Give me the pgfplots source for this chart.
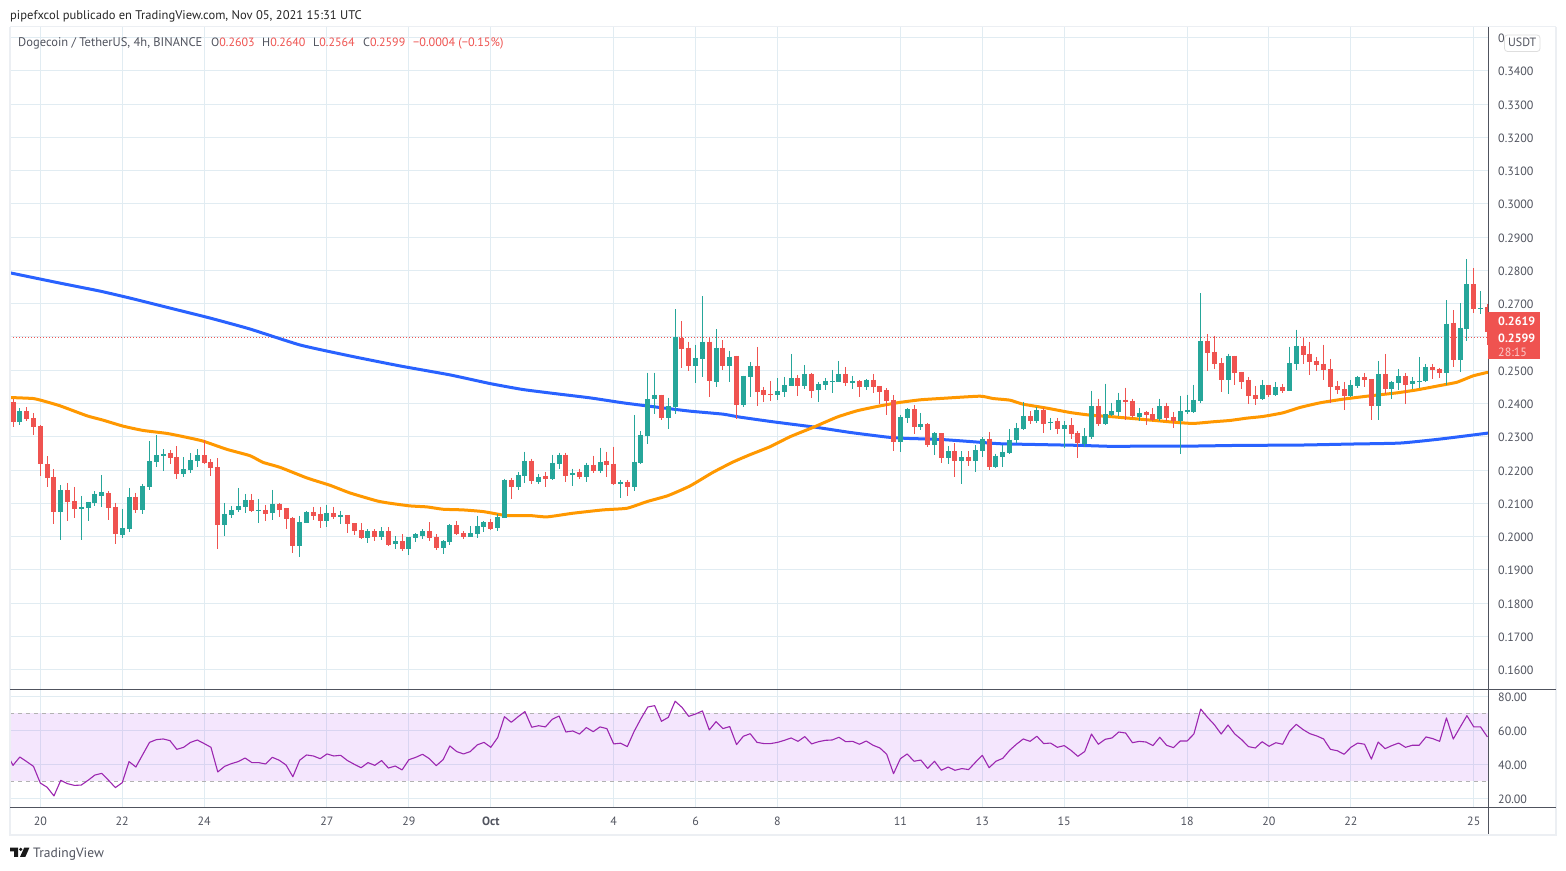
\documentclass[border=0pt]{standalone}
\usepackage{fontspec}
\setmainfont{PT Sans}
\usepackage{pgfplots}
\usepackage{pgfplotstable}
\pgfplotsset{compat=1.18}
\definecolor{cgreen}{HTML}{26A69A}
\definecolor{cred}{HTML}{EF5350}
\definecolor{gridc}{HTML}{E1ECF2}
\definecolor{axc}{HTML}{50535E}
\definecolor{framec}{HTML}{ECEFF3}
\definecolor{ma1}{HTML}{FF9800}
\definecolor{ma2}{HTML}{2962FF}
\definecolor{rsic}{HTML}{9C27B0}
\definecolor{bandc}{HTML}{A020F0}
% green candles: x high close open low
\pgfplotstableread{
x high top bot low
1 .2386 .2377 .2345 .2336
7 .2155 .2140 .2075 .1988
10 .2122 .2089 .2084 .1988
11 .2104 .2104 .2087 .2048
12 .2136 .2128 .2102 .2093
13 .2185 .2134 .2122 .2090
16 .2083 .2026 .2006 .1997
17 .2146 .2119 .2024 .2015
19 .2158 .2152 .2081 .2069
20 .2287 .2227 .2150 .2141
21 .2305 .2245 .2225 .2210
22 .2263 .2248 .2242 .2198
25 .2239 .2203 .2188 .2179
26 .2251 .2230 .2200 .2191
27 .2263 .2245 .2227 .2209
31 .2101 .2068 .2035 .2002
32 .2092 .2080 .2065 .2056
33 .2146 .2092 .2080 .2074
34 .2128 .2110 .2089 .2071
36 .2113 .2080 .2077 .2040
38 .2140 .2098 .2071 .2049
42 .2062 .2044 .1971 .1937
43 .2077 .2074 .2040 .2040
46 .2095 .2071 .2046 .2028
48 .2077 .2065 .2059 .2037
52 .2022 .2016 .1995 .1980
54 .2028 .2016 .1998 .1989
56 .2001 .1986 .1977 .1962
58 .1998 .1998 .1962 .1943
59 .2010 .2007 .1995 .1983
60 .2022 .2016 .2001 .1992
63 .1989 .1986 .1965 .1947
64 .2037 .2034 .1983 .1974
67 .2031 .2010 .1998 .1998
68 .2062 .2031 .2007 .1995
69 .2046 .2043 .2028 .2013
71 .2068 .2059 .2025 .2016
72 .2174 .2171 .2056 .2056
74 .2194 .2185 .2149 .2140
75 .2255 .2228 .2182 .2161
77 .2188 .2179 .2164 .2158
79 .2246 .2222 .2173 .2170
80 .2252 .2246 .2219 .2204
82 .2204 .2191 .2185 .2152
84 .2222 .2216 .2179 .2164
86 .2267 .2225 .2197 .2191
89 .2170 .2164 .2158 .2116
91 .2366 .2225 .2149 .2137
92 .2318 .2306 .2222 .2219
93 .2493 .2415 .2303 .2279
94 .2493 .2427 .2415 .2368
96 .2418 .2393 .2357 .2324
97 .2683 .2600 .2390 .2369
100 .2577 .2538 .2514 .2463
101 .2722 .2586 .2535 .2481
103 .2623 .2568 .2466 .2451
105 .2559 .2541 .2514 .2466
107 .2484 .2484 .2396 .2390
108 .2525 .2513 .2480 .2420
112 .2477 .2438 .2426 .2411
113 .2480 .2456 .2435 .2420
114 .2549 .2477 .2453 .2453
116 .2516 .2489 .2453 .2444
118 .2465 .2459 .2441 .2405
119 .2477 .2468 .2456 .2441
120 .2501 .2468 .2465 .2432
121 .2528 .2489 .2465 .2465
123 .2483 .2468 .2462 .2444
125 .2474 .2471 .2450 .2441
130 .2366 .2360 .2284 .2254
131 .2387 .2384 .2357 .2342
133 .2372 .2339 .2329 .2320
135 .2314 .2311 .2275 .2245
137 .2272 .2257 .2236 .2218
139 .2257 .2239 .2227 .2158
141 .2275 .2260 .2227 .2194
142 .2300 .2294 .2258 .2240
144 .2249 .2243 .2210 .2207
145 .2276 .2255 .2240 .2210
146 .2324 .2291 .2252 .2249
147 .2342 .2327 .2291 .2282
148 .2406 .2363 .2324 .2321
150 .2390 .2381 .2348 .2342
152 .2357 .2345 .2342 .2321
154 .2348 .2336 .2324 .2267
157 .2327 .2303 .2279 .2270
158 .2439 .2393 .2300 .2294
160 .2460 .2369 .2339 .2336
161 .2403 .2378 .2366 .2363
162 .2433 .2412 .2375 .2363
165 .2387 .2372 .2360 .2348
168 .2415 .2393 .2354 .2348
171 .2424 .2378 .2348 .2249
172 .2427 .2381 .2375 .2369
173 .2457 .2412 .2375 .2372
174 .2731 .2589 .2409 .2403
178 .2550 .2544 .2472 .2430
183 .2471 .2456 .2413 .2410
185 .2465 .2450 .2425 .2422
187 .2571 .2522 .2437 .2437
188 .2622 .2574 .2519 .2501
196 .2471 .2456 .2422 .2419
197 .2483 .2480 .2453 .2446
200 .2528 .2489 .2392 .2349
202 .2468 .2465 .2443 .2413
203 .2504 .2483 .2462 .2440
205 .2480 .2468 .2459 .2443
206 .2540 .2468 .2465 .2446
207 .2519 .2510 .2468 .2465
210 .2710 .2640 .2492 .2456
212 .2701 .2628 .2531 .2495
213 .2834 .2759 .2625 .2589
215 .2737 .2686 .2683 .2668
}\upcandles
% red candles: x high open close low
\pgfplotstableread{
x high top bot low
0 .2415 .2404 .2345 .2329
2 .2389 .2377 .2354 .2348
3 .2371 .2356 .2330 .2305
4 .2335 .2332 .2219 .2182
5 .2242 .2218 .2177 .2150
6 .2203 .2179 .2075 .2039
8 .2161 .2140 .2105 .2048
9 .2149 .2107 .2084 .2057
14 .2137 .2131 .2087 .2051
15 .2101 .2089 .2009 .1976
18 .2131 .2119 .2081 .2072
23 .2260 .2251 .2236 .2219
24 .2272 .2239 .2189 .2173
28 .2290 .2245 .2221 .2218
29 .2233 .2224 .2206 .2182
30 .2236 .2209 .2035 .1963
35 .2128 .2110 .2077 .2074
37 .2095 .2080 .2068 .2046
39 .2101 .2098 .2080 .2059
40 .2086 .2086 .2053 .2022
41 .2059 .2056 .1971 .1950
44 .2089 .2074 .2062 .2050
45 .2089 .2068 .2046 .2025
47 .2089 .2071 .2059 .2053
49 .2065 .2065 .2037 .2010
50 .2040 .2040 .2016 .2004
51 .2040 .2019 .1995 .1992
53 .2022 .2016 .1998 .1986
55 .2028 .2016 .1974 .1971
57 .2007 .1986 .1962 .1956
61 .2043 .2016 .1995 .1986
62 .2007 .1998 .1965 .1959
65 .2046 .2034 .2007 .2004
66 .2016 .2010 .1998 .1992
70 .2052 .2043 .2022 .2019
73 .2176 .2170 .2149 .2113
76 .2234 .2228 .2167 .2158
78 .2194 .2182 .2173 .2149
81 .2252 .2246 .2182 .2164
83 .2204 .2194 .2179 .2173
85 .2243 .2216 .2197 .2191
87 .2255 .2228 .2216 .2179
88 .2270 .2219 .2158 .2155
90 .2170 .2164 .2149 .2122
95 .2427 .2427 .2357 .2351
98 .2647 .2597 .2565 .2508
99 .2586 .2568 .2514 .2499
102 .2599 .2586 .2469 .2421
104 .2590 .2568 .2514 .2502
106 .2544 .2544 .2396 .2354
109 .2570 .2513 .2435 .2393
110 .2450 .2441 .2426 .2405
111 .2468 .2429 .2426 .2408
115 .2486 .2477 .2453 .2423
117 .2492 .2489 .2438 .2417
122 .2510 .2489 .2462 .2453
124 .2471 .2468 .2450 .2420
126 .2489 .2471 .2450 .2432
127 .2453 .2453 .2435 .2399
128 .2447 .2441 .2408 .2366
129 .2426 .2411 .2284 .2257
132 .2396 .2384 .2329 .2308
134 .2342 .2339 .2275 .2269
136 .2311 .2311 .2236 .2221
138 .2281 .2257 .2227 .2179
140 .2257 .2239 .2227 .2212
143 .2315 .2294 .2210 .2200
149 .2378 .2363 .2348 .2339
151 .2387 .2381 .2339 .2312
153 .2357 .2348 .2324 .2309
155 .2357 .2336 .2309 .2294
156 .2318 .2312 .2282 .2237
159 .2415 .2393 .2339 .2333
163 .2448 .2412 .2406 .2351
164 .2415 .2409 .2363 .2357
166 .2378 .2375 .2366 .2336
167 .2387 .2369 .2351 .2348
169 .2403 .2393 .2357 .2348
170 .2375 .2360 .2348 .2327
175 .2608 .2589 .2553 .2499
176 .2604 .2556 .2520 .2505
177 .2536 .2523 .2472 .2436
179 .2544 .2544 .2493 .2457
180 .2495 .2495 .2465 .2443
181 .2480 .2471 .2422 .2398
182 .2453 .2425 .2413 .2395
184 .2456 .2456 .2425 .2419
186 .2459 .2450 .2437 .2431
189 .2601 .2574 .2546 .2519
190 .2586 .2550 .2525 .2486
191 .2540 .2528 .2516 .2498
192 .2577 .2519 .2501 .2471
193 .2534 .2504 .2450 .2401
194 .2468 .2453 .2440 .2428
195 .2465 .2443 .2422 .2380
198 .2492 .2480 .2471 .2449
199 .2474 .2474 .2392 .2349
201 .2549 .2489 .2443 .2428
204 .2492 .2483 .2456 .2398
208 .2519 .2510 .2501 .2474
209 .2507 .2504 .2492 .2477
211 .2680 .2643 .2531 .2510
214 .2807 .2759 .2683 .2671
216 .2698 .2689 .2616 .2577
}\downcandles
\pgfplotstableread{
x y
-0.44 .2418
2.93 .2415
4.39 .2408
6.89 .2393
10.84 .2363
13.18 .2350
16.11 .2332
19.04 .2319
22.56 .2310
25.49 .2298
27.83 .2287
31.35 .2262
34.72 .2243
36.62 .2223
39.12 .2208
43.07 .2176
46.44 .2154
49.37 .2131
53.33 .2107
55.23 .2100
58.16 .2092
60.65 .2089
62.99 .2082
65.92 .2080
68.85 .2075
71.34 .2066
72.37 .2063
75.74 .2063
78.23 .2059
82.04 .2070
86.43 .2080
89.95 .2085
92.88 .2105
95.96 .2123
99.18 .2152
102.55 .2193
105.48 .2224
107.97 .2246
110.90 .2270
113.83 .2300
117.20 .2328
120.71 .2359
123.64 .2378
126.57 .2391
129.50 .2402
132.87 .2411
135.80 .2415
141.66 .2422
143.57 .2415
146.06 .2410
147.96 .2398
151.48 .2386
154.85 .2373
157.78 .2365
161.15 .2360
166.13 .2351
169.94 .2344
172.87 .2340
175.80 .2345
178.29 .2349
180.78 .2356
183.12 .2361
186.05 .2372
188.54 .2388
191.47 .2402
194.84 .2413
198.80 .2423
202.75 .2432
205.68 .2441
209.05 .2454
211.54 .2464
213.89 .2483
216.09 .2494
}\maorange
\pgfplotstableread{
x y
-0.44 .2793
6.89 .2762
12.75 .2738
17.14 .2717
23.00 .2687
28.86 .2657
34.72 .2624
42.05 .2576
49.37 .2543
56.69 .2513
64.02 .2486
69.88 .2460
74.71 .2442
79.70 .2429
84.53 .2417
89.36 .2402
94.35 .2389
99.18 .2377
104.01 .2368
106.50 .2359
111.34 .2345
117.79 .2328
122.62 .2313
128.04 .2299
130.97 .2295
135.80 .2292
140.64 .2285
144.59 .2279
151.48 .2276
156.31 .2274
161.15 .2271
166.13 .2272
172.87 .2272
179.75 .2274
188.54 .2275
195.87 .2278
203.19 .2281
209.05 .2293
216.09 .2311
}\mablue
\pgfplotstableread{
x y
-0.44 42.7
0 39.4
1 44.3
2 41.6
3 38.8
4 29.0
5 26.5
6 21.4
7 30.6
8 28.6
9 27.6
10 27.8
11 30.6
12 33.7
13 34.7
14 30.6
15 26.3
16 29.2
17 41.6
18 38.4
19 45.7
20 52.9
21 54.5
22 54.9
23 53.9
24 48.8
25 50.0
26 52.9
27 54.3
28 52.2
29 50.0
30 35.5
31 38.8
32 40.4
33 41.6
34 43.7
35 41.0
36 41.0
37 40.2
38 44.1
39 42.4
40 39.6
41 32.7
42 42.4
43 45.5
44 44.9
45 43.3
46 46.1
47 44.9
48 45.3
49 42.2
50 40.0
51 38.0
52 41.0
53 39.4
54 42.2
55 37.8
56 39.0
57 36.7
58 42.7
59 44.1
60 45.9
61 43.3
62 39.2
63 42.7
64 50.8
65 47.5
66 46.1
67 47.5
68 51.4
69 52.9
70 50.0
71 55.7
72 68.0
73 64.7
74 68.0
75 71.0
76 61.8
77 62.7
78 62.0
79 66.5
80 68.4
81 59.0
82 59.6
83 57.8
84 61.6
85 59.2
86 62.0
87 61.0
88 52.0
89 52.4
90 50.4
91 59.4
92 66.9
93 73.7
94 74.5
95 65.3
96 67.6
97 77.1
98 73.5
99 68.2
100 69.6
101 71.4
102 60.2
103 65.1
104 61.0
105 62.2
106 51.6
107 56.5
108 58.0
109 52.9
110 52.2
111 52.2
112 52.9
113 54.1
114 55.5
115 53.5
116 56.3
117 52.0
118 53.3
119 54.1
120 54.3
121 55.9
122 53.3
123 53.5
124 51.8
125 53.7
126 51.2
127 49.6
128 45.9
129 34.5
130 43.3
131 46.1
132 41.8
133 42.5
134 37.6
135 41.8
136 36.5
137 38.4
138 36.5
139 37.5
140 36.9
141 41.2
142 45.3
143 38.0
144 41.8
145 43.5
146 48.2
147 51.8
148 54.9
149 53.5
150 56.5
151 52.2
152 52.5
153 50.0
154 51.0
155 48.2
156 44.7
157 47.5
158 57.8
159 51.8
160 54.7
161 55.5
162 59.0
163 58.4
164 52.7
165 53.5
166 53.1
167 51.0
168 55.9
169 51.2
170 49.8
171 53.7
172 53.7
173 57.8
174 72.5
175 67.6
176 63.3
177 57.8
178 63.1
179 57.8
180 54.5
181 50.4
182 49.6
183 53.3
184 50.6
185 52.7
186 51.8
187 59.4
188 63.5
189 60.4
190 58.0
191 56.7
192 54.9
193 48.8
194 48.0
195 45.9
196 50.0
197 52.5
198 51.8
199 43.1
200 53.1
201 49.2
202 51.0
203 52.5
204 50.0
205 51.2
206 51.2
207 56.1
208 55.1
209 53.5
210 67.3
211 54.9
212 61.8
213 68.6
214 62.0
215 62.0
216 56.1
}\rsidata
\pgfplotsset{
  wick/.style={draw=none,mark=none,forget plot,error bars/.cd,y dir=minus,y explicit,error mark=none,error bar style={line width=1pt,draw=#1,solid}},
  body/.style={draw=none,mark=none,forget plot,error bars/.cd,y dir=minus,y explicit,error mark=none,error bar style={line width=5pt,draw=#1,solid}},
  paneaxis/.style={
    scale only axis,
    xmin=-0.44,xmax=216.09,
    anchor=south west,
    axis line style={draw=none},
    tick style={draw=none},
    grid=major,
    major grid style={draw=gridc,line width=1pt},
    xtick={4,16,28,46,58,70,88,100,112,130,142,154,172,184,196,214},
    ticklabel style={font=\fontsize{12}{14}\selectfont,text=axc},
    yticklabel pos=right,
    yticklabel style={anchor=west,inner sep=0pt,xshift=10pt,yshift=-0.8pt},
  },
}
\begin{document}
\begin{tikzpicture}
\fill[white] (0pt,0pt) rectangle (1566pt,870pt);
\path[use as bounding box] (0pt,0pt) rectangle (1566pt,870pt);
% price pane
\begin{axis}[paneaxis,
  at={(10pt,181pt)},width=1478pt,height=662pt,
  ymin=0.15414,ymax=0.35323,
  xticklabels={},
  ytick={0.16,0.17,0.18,0.19,0.20,0.21,0.22,0.23,0.24,0.25,0.26,0.27,0.28,0.29,0.30,0.31,0.32,0.33,0.34,0.35},
  yticklabels={0.1600,0.1700,0.1800,0.1900,0.2000,0.2100,0.2200,0.2300,0.2400,0.2500,0.2600,0.2700,0.2800,0.2900,0.3000,0.3100,0.3200,0.3300,0.3400,0},
]
\addplot[cred,line width=1pt,dash pattern=on 1pt off 2pt,forget plot] coordinates {(-0.44,0.2599) (216.09,0.2599)};
\addplot[ma2,line width=3pt,smooth,tension=0.3,forget plot] table[x=x,y=y] {\mablue};
\addplot[ma1,line width=3pt,smooth,tension=0.3,forget plot] table[x=x,y=y] {\maorange};
\addplot[wick=cgreen] table[x=x,y=high,y error minus expr=\thisrow{high}-\thisrow{low}] {\upcandles};
\addplot[wick=cred] table[x=x,y=high,y error minus expr=\thisrow{high}-\thisrow{low}] {\downcandles};
\addplot[body=cgreen] table[x=x,y=top,y error minus expr=\thisrow{top}-\thisrow{bot}] {\upcandles};
\addplot[body=cred] table[x=x,y=top,y error minus expr=\thisrow{top}-\thisrow{bot}] {\downcandles};
\end{axis}
% RSI pane
\begin{axis}[paneaxis,
  at={(10pt,63pt)},width=1478pt,height=117pt,
  ymin=14.9,ymax=83.7,
  ytick={20,40,60,80},
  yticklabels={20.00,40.00,60.00,80.00},
  xticklabels={20,22,24,27,29,\textbf{Oct},4,6,8,11,13,15,18,20,22,25},
  xticklabel style={anchor=base,inner sep=0pt,yshift=-19pt},
]
\addplot[draw=none,fill=bandc,fill opacity=0.11,forget plot] coordinates {(-0.44,30) (216.09,30) (216.09,70) (-0.44,70)} --cycle;
\addplot[draw=black!30,line width=0.8pt,dash pattern=on 4pt off 4pt,forget plot] coordinates {(-0.44,70) (216.09,70)};
\addplot[draw=black!30,line width=0.8pt,dash pattern=on 4pt off 4pt,forget plot] coordinates {(-0.44,30) (216.09,30)};
\addplot[rsic,line width=1.1pt,line join=round,forget plot] table[x=x,y=y] {\rsidata};
\end{axis}
\begin{scope}[x=1pt,y=-1pt,shift={(0pt,870pt)}]
% frame
\draw[framec,line width=2pt] (10,27) -- (10,835) -- (1556,835) -- (1556,27);
\draw[framec,line width=1pt] (10,27) -- (1556,27);
\draw[axc,line width=1pt] (10,689.5) -- (1556,689.5);
\draw[axc,line width=1pt] (10,807.5) -- (1556,807.5);
\draw[axc,line width=1pt] (1488,27) -- (1488,834);
% price labels
\fill[cred] (1488,312) rectangle (1540,359.3);
\node[anchor=west,inner sep=0pt,text=white,font=\fontsize{12}{14}\selectfont\bfseries] at (1498,321.3) {0.2619};
\node[anchor=west,inner sep=0pt,text=white,font=\fontsize{12}{14}\selectfont\bfseries] at (1498,338.1) {0.2599};
\node[anchor=west,inner sep=0pt,text=white,text opacity=0.7,font=\fontsize{12}{14}\selectfont] at (1498,352) {28:15};
% currency button
\draw[draw=black!13,fill=white,rounded corners=3pt,line width=0.8pt] (1504.5,35) rectangle (1540,51.5);
\node[inner sep=0pt,text=axc,font=\fontsize{12}{14}\selectfont] at (1522.2,42.8) {USDT};
% header
\node[anchor=base west,inner sep=0pt,text=black!85,font=\fontsize{12.55}{14}\selectfont] at (10,19.8) {pipefxcol publicado en TradingView.com, Nov 05, 2021 15:31 UTC};
\node[anchor=base west,inner sep=0pt,text=axc,font=\fontsize{12.5}{14}\selectfont] at (18,46.8) {Dogecoin / TetherUS, 4h, BINANCE};
\node[anchor=base west,inner sep=0pt,text=axc,font=\fontsize{12}{14}\selectfont] at (211,46.8) {O\textcolor{cred}{0.2603}};
\node[anchor=base west,inner sep=0pt,text=axc,font=\fontsize{12}{14}\selectfont] at (262,46.8) {H\textcolor{cred}{0.2640}};
\node[anchor=base west,inner sep=0pt,text=axc,font=\fontsize{12}{14}\selectfont] at (313,46.8) {L\textcolor{cred}{0.2564}};
\node[anchor=base west,inner sep=0pt,text=axc,font=\fontsize{12}{14}\selectfont] at (363,46.8) {C\textcolor{cred}{0.2599}};
\node[anchor=base west,inner sep=0pt,text=cred,font=\fontsize{12.2}{14}\selectfont] at (413,46.8) {−0.0004 (−0.15\%)};
% logo
\fill[black!90] (10,847.7) -- (18,847.7) -- (18,857) -- (14,857) -- (14,851.5) -- (10,851.5) -- cycle;
\fill[black!90] (20.7,849.4) circle (1.8);
\fill[black!90] (24.2,847.7) -- (29.4,847.7) -- (25.3,857) -- (20,857) -- cycle;
\node[anchor=base west,inner sep=0pt,text=axc,font=\fontsize{13.5}{16}\selectfont] at (33,857.2) {TradingView};
\end{scope}
\end{tikzpicture}
\end{document}
